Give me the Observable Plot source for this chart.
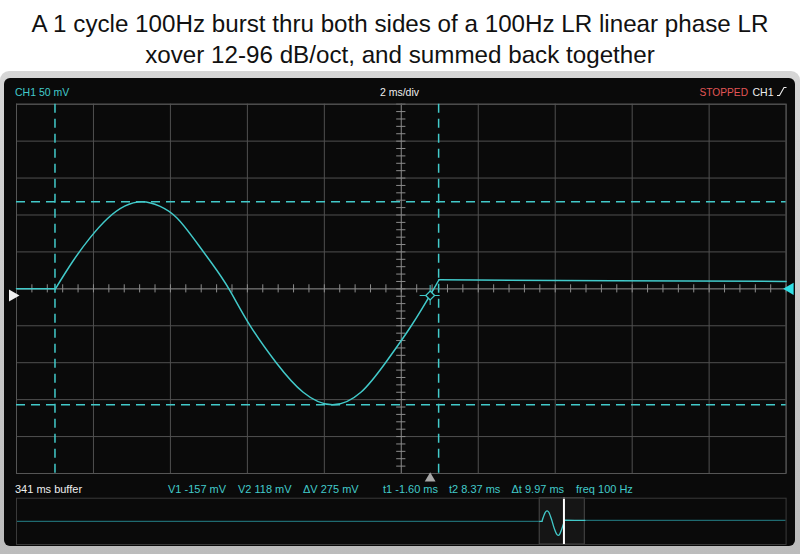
<!DOCTYPE html>
<html><head><meta charset="utf-8">
<script src="https://cdn.jsdelivr.net/npm/d3@7"></script>
<script src="https://cdn.jsdelivr.net/npm/@observablehq/plot@0.6"></script>
<style>
body{margin:0;background:#fff;font-family:"Liberation Sans",Arial,sans-serif;}
#page{position:relative;width:800px;height:554px;overflow:hidden;}
#title{position:absolute;left:0;top:8px;width:800px;text-align:center;font-size:24.2px;line-height:31px;color:#111;}
#bezel{position:absolute;left:0;top:71px;width:800px;height:483px;background:linear-gradient(#d6d6d6,#bcbcbc);border-radius:9px 9px 0 0;}
#screen{position:absolute;left:4px;top:7px;right:5px;bottom:8px;background:#0a0a0a;border-radius:6px;}
#main,#mini,#labels{position:absolute;left:0;}
#main{top:72px;} #mini{top:490px;} #labels{top:0;}
</style></head>
<body>
<div id="page">
  <div id="title">A 1 cycle 100Hz burst thru both sides of a 100Hz LR linear phase LR<br>xover 12-96 dB/oct, and summed back together</div>
  <div id="bezel"><div id="screen"></div></div>
  <div id="main"></div>
  <div id="mini"></div>
  <div id="labels"></div>
</div>
<script>
// ---- data ----
const xDomain = [-2.6, 17.4];          // visible time window, ms (2 ms/div)
const yDomain = [-250, 250];           // mV (50 mV/div)
const bufferRange = [-234.7, 106.7];   // 341 ms buffer, ms
const traceT = [-2.6, -1.59, -1.59, -1.14, -0.69, -0.24, 0.21, 0.665, 1.12, 1.57, 2.02, 2.47, 2.92, 3.45, 4.15, 4.85, 5.61, 6.35, 6.99, 7.66, 8.245, 8.38, 8.38, 12.9, 17.4];
const traceV = [0, 0, 0, 37, 69, 95, 112, 118, 112, 96, 67, 35, 0, -48, -100, -140, -157, -140, -100, -50, 0, 12.3, 12.3, 11, 10];
const traceSeg = ["pre","pre","burst","burst","burst","burst","burst","burst","burst","burst","burst","burst","burst","burst","burst","burst","burst","burst","burst","burst","burst","burst","post","post","post"];
const cursorT = [-1.60, 8.37];         // t1, t2 (ms)
const cursorV = [-157, 118];           // V1, V2 (mV)
const triggerT = 8.15, triggerV = -9;  // trigger point
const bufferLabel = "341 ms buffer";
const chLabel = "CH1 50 mV", timeLabel = "2 ms/div";

const msPerDiv = 2, mVPerDiv = 50;
const cyan = "#42caca", dimCyan = "#1f6a70";
const trace = traceT.map((t, i) => ({t, v: traceV[i], seg: traceSeg[i]}));
const gridT = d3.range(0, 11).map(k => xDomain[0] + k * msPerDiv);
const gridV = d3.range(0, 11).map(k => yDomain[0] + k * mVPerDiv);
const centerT = (xDomain[0] + xDomain[1]) / 2;
const minorT = d3.range(0, 51).map(k => xDomain[0] + k * msPerDiv / 5);
const minorV = d3.range(0, 51).map(k => yDomain[0] + k * mVPerDiv / 5);

const main = Plot.plot({
  width: 800, height: 482,
  marginLeft: 16, marginRight: 14.4, marginTop: 31.7, marginBottom: 81,
  x: {domain: xDomain, axis: null},
  y: {domain: yDomain, axis: null},
  style: {background: "none", overflow: "visible"},
  marks: [
    Plot.ruleX(gridT, {stroke: "#505050"}),
    Plot.ruleY(gridV, {stroke: "#505050"}),
    Plot.ruleX([centerT], {stroke: "#747474"}),
    Plot.ruleY([0], {stroke: "#747474"}),
    Plot.ruleX(minorT, {x: d => d, y1: -5.5, y2: 5.5, stroke: "#8c8c8c"}),
    Plot.ruleY(minorV, {y: d => d, x1: centerT - 0.12, x2: centerT + 0.12, stroke: "#8c8c8c"}),
    Plot.frame({stroke: "#555"}),
    Plot.ruleX(cursorT, {stroke: cyan, strokeWidth: 1.5, strokeDasharray: "9,6"}),
    Plot.ruleY(cursorV, {stroke: cyan, strokeWidth: 1.5, strokeDasharray: "9,6"}),
    Plot.line(trace, {x: "t", y: "v", z: "seg", stroke: cyan, strokeWidth: 1.5, curve: "natural"}),
    Plot.ruleX([triggerT], {x: d => d, y1: triggerV - 13.5, y2: triggerV + 13.5, stroke: cyan}),
    Plot.ruleY([triggerV], {y: d => d, x1: triggerT - 0.26, x2: triggerT + 0.26, stroke: cyan}),
    Plot.dot([triggerT], {x: d => d, y: triggerV, symbol: "diamond2", r: 4, stroke: cyan, fill: "#0a0a0a", strokeWidth: 1.3}),
    Plot.dot([triggerV], {y: d => d, frameAnchor: "left", dx: -4, symbol: "triangle", rotate: 90, r: 4.5, fill: "#f2f2f2", stroke: "none"}),
    Plot.dot([0], {y: d => d, frameAnchor: "right", dx: 4, symbol: "triangle", rotate: -90, r: 4.5, fill: "#2fe0e6", stroke: "none"}),
    Plot.dot([triggerT], {x: d => d, frameAnchor: "bottom", dy: 5, symbol: "triangle", r: 4, fill: "#a8a8a8", stroke: "none"})
  ]
});
document.getElementById("main").append(main);

const mini = Plot.plot({
  width: 800, height: 60,
  marginLeft: 16, marginRight: 14.4, marginTop: 7.7, marginBottom: 6,
  x: {domain: bufferRange, axis: null},
  y: {domain: [-260, 260], axis: null},
  style: {background: "none", overflow: "visible"},
  marks: [
    Plot.rect([xDomain], {x1: d => d[0], x2: d => d[1], y1: -260, y2: 260, fill: "#151515", stroke: "#4a4a4a"}),
    Plot.ruleY([0], {x1: bufferRange[0], x2: xDomain[0], stroke: dimCyan, strokeWidth: 1.2}),
    Plot.ruleY([traceV[traceV.length - 1]], {x1: xDomain[1], x2: bufferRange[1], stroke: dimCyan, strokeWidth: 1.2}),
    Plot.line(trace, {x: "t", y: "v", z: "seg", stroke: cyan, strokeWidth: 1.3, curve: "natural"}),
    Plot.ruleX([triggerT], {stroke: "#ffffff", strokeWidth: 2}),
    Plot.frame({stroke: "#3a3a3a"})
  ]
});
document.getElementById("mini").append(mini);

// ---- text overlay ----
const svg = d3.select("#labels").append("svg").attr("width", 800).attr("height", 554)
  .style("font-family", '"Liberation Sans", Arial, sans-serif');
function label(x, y, text, fill, size, anchor = "start") {
  svg.append("text").attr("x", x).attr("y", y).attr("fill", fill)
    .attr("font-size", size).attr("text-anchor", anchor).text(text);
}
label(15, 95.7, chLabel, cyan, 10.5);
label(399.5, 95.7, timeLabel, "#eeeeee", 10.5, "middle");
label(699.5, 95.7, "STOPPED", "#e25656", 10.2);
label(752.5, 95.7, "CH1", "#eeeeee", 10.5);
svg.append("path").attr("d", "M777,95.5 h2.5 l4.5,-8 h2.5").attr("stroke", "#eeeeee").attr("fill", "none").attr("stroke-width", 1.1);

const dV = cursorV[1] - cursorV[0];
const dT = cursorT[1] - cursorT[0];
label(15, 493.3, bufferLabel, "#eeeeee", 11);
const readouts = [
  [168, `V1 ${cursorV[0]} mV`],
  [238, `V2 ${cursorV[1]} mV`],
  [303, `ΔV ${dV} mV`],
  [383, `t1 ${cursorT[0].toFixed(2)} ms`],
  [449, `t2 ${cursorT[1].toFixed(2)} ms`],
  [511.5, `Δt ${dT.toFixed(2)} ms`],
  [576, `freq ${Math.round(1000 / dT)} Hz`]
];
readouts.forEach(([x, t]) => label(x, 493.3, t, cyan, 11));
</script>
</body></html>
